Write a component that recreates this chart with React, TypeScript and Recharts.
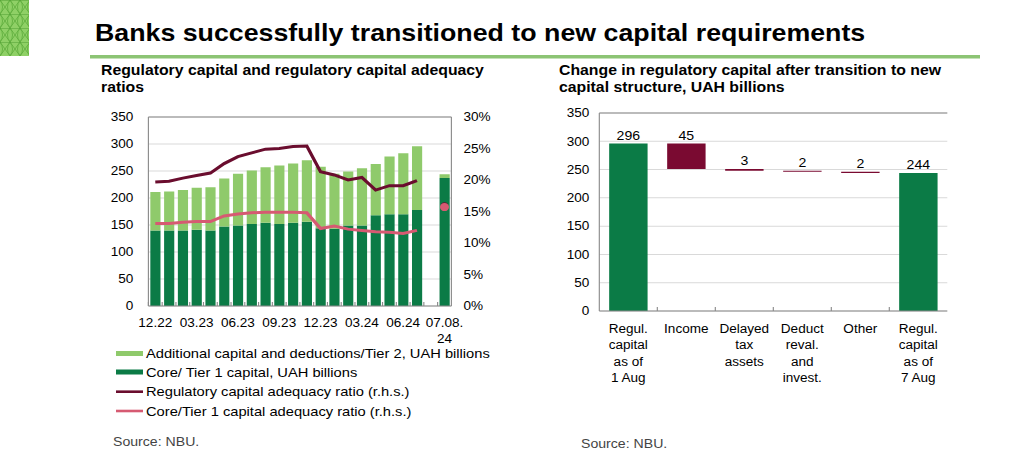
import React from 'react';
import { ComposedChart, Bar, Line, XAxis, YAxis, CartesianGrid, ReferenceLine, Cell, LabelList } from 'recharts';

// the reference picture is stretched sideways, so the whole page is drawn narrow and scaled back
const S = 1.13;
const u = (x: number) => x / S;

const FONT = '"Liberation Sans", Arial, Helvetica, sans-serif';
const DARK_GREEN = '#0b7b46';
const LIGHT_GREEN = '#8fca6b';
const MAROON = '#6a0d2e';
const BAR_MAROON = '#7a0a31';
const PINK = '#d65a72';
const BORDER = '#8a8a8a';
const GRID = '#d9d9d9';

// ---- left chart data ----
const months = [
  '12.22', '01.23', '02.23', '03.23', '04.23', '05.23', '06.23', '07.23', '08.23', '09.23', '10.23',
  '11.23', '12.23', '01.24', '02.24', '03.24', '04.24', '05.24', '06.24', '07.24', '', '07.08.24',
];
const coreCapital = [140, 140, 140, 141, 140, 147, 149, 152, 154, 152, 154, 156, 144, 143, 149, 149, 168, 170, 170, 178, null, 237];
const additionalCapital = [71, 72, 75, 78, 80, 89, 96, 99, 103, 108, 110, 114, 114, 102, 100, 106, 95, 107, 113, 118, null, 7];
const regulatoryCar = [19.7, 19.8, 20.3, 20.7, 21.1, 22.6, 23.7, 24.3, 24.9, 25.0, 25.3, 25.4, 21.3, 20.8, 20.0, 20.4, 18.4, 19.1, 19.1, 19.9, null, 16.0];
const tier1Car = [13.1, 13.1, 13.3, 13.4, 13.4, 14.3, 14.6, 14.8, 14.9, 14.9, 14.9, 14.8, 12.3, 12.7, 12.2, 12.0, 11.8, 11.7, 11.5, 12.0, null, 15.7];
const shownTicks = ['12.22', '03.23', '06.23', '09.23', '12.23', '03.24', '06.24', '07.08.24'];
const shownTickLines = [['12.22'], ['03.23'], ['06.23'], ['09.23'], ['12.23'], ['03.24'], ['06.24'], ['07.08.', '24']];
const leftTicks = [0, 50, 100, 150, 200, 250, 300, 350];
const rightTicks = [0, 5, 10, 15, 20, 25, 30];

const leftData = months.map((m, i) => ({
  month: m,
  core: coreCapital[i],
  additional: additionalCapital[i],
  reg: regulatoryCar[i],
  t1: tier1Car[i],
}));

const legendItems = [
  { label: 'Additional capital and deductions/Tier 2, UAH billions', color: LIGHT_GREEN, kind: 'bar' },
  { label: 'Core/ Tier 1 capital, UAH billions', color: DARK_GREEN, kind: 'bar' },
  { label: 'Regulatory capital adequacy ratio (r.h.s.)', color: MAROON, kind: 'line' },
  { label: 'Core/Tier 1 capital adequacy ratio (r.h.s.)', color: PINK, kind: 'line' },
];

// ---- right chart data ----
const wfCategories = [
  'Regul.\ncapital\nas of\n1 Aug',
  'Income',
  'Delayed\ntax\nassets',
  'Deduct\nreval.\nand\ninvest.',
  'Other',
  'Regul.\ncapital\nas of\n7 Aug',
];
const wfBase = [0, 251, 248, 246, 244, 0];
const wfChange = [296, 45, 3, 2, 2, 244];
const wfKind = ['total', 'change', 'change', 'change', 'change', 'total'];

const wfData = wfCategories.map((c, i) => ({ cat: c, base: wfBase[i], change: wfChange[i] }));

const LEFT_STEP = u(303) / months.length;
const RIGHT_STEP = u(348) / wfCategories.length;

const LeftTick = (props: any) => {
  const { x, y, payload } = props;
  const i = shownTicks.indexOf(payload.value);
  const hx = x - LEFT_STEP / 2;
  return (
    <g>
      <line x1={hx} x2={hx} y1={y} y2={y - 4} stroke={BORDER} />
      {i >= 0 && (
        <text x={x} y={y + 21.5} textAnchor="middle" fontSize={12} fill="#000">
          {shownTickLines[i].map((t, k) => (
            <tspan key={k} x={x} dy={k === 0 ? 0 : 15.5}>{t}</tspan>
          ))}
        </text>
      )}
    </g>
  );
};

const RightTick = (props: any) => {
  const { x, y, payload, index } = props;
  const hx = x - RIGHT_STEP / 2;
  const lines = String(payload.value).split('\n');
  return (
    <g>
      {index > 0 && <line x1={hx} x2={hx} y1={y} y2={y - 4} stroke={BORDER} />}
      <text x={x} y={y + 22} textAnchor="middle" fontSize={12} fill="#000">
        {lines.map((t, k) => (
          <tspan key={k} x={x} dy={k === 0 ? 0 : 16.3}>{t}</tspan>
        ))}
      </text>
    </g>
  );
};

const isolatedDot = (series: (number | null)[], color: string, r: number) => (p: any) => {
  const i = p.index;
  const alone = series[i] != null && series[i - 1] == null && series[i + 1] == null;
  if (!alone || p.cy == null) return <g key={`d${i}`} />;
  return <circle key={`d${i}`} cx={p.cx} cy={p.cy} r={r} fill={color} />;
};

function LeftChart() {
  return (
    <ComposedChart
      width={u(420)}
      height={250}
      data={leftData}
      margin={{ top: 17, right: 0, bottom: 0, left: 0 }}
      barCategoryGap="14%"
    >
      <CartesianGrid vertical={false} stroke={GRID} yAxisId="l" />
      <XAxis
        dataKey="month"
        interval={0}
        height={44}
        tickSize={0}
        tickMargin={0}
        tickLine={false}
        axisLine={{ stroke: BORDER }}
        tick={<LeftTick />}
      />
      <YAxis
        yAxisId="l"
        domain={[0, 350]}
        ticks={leftTicks}
        width={u(58)}
        tickSize={0}
        tickMargin={u(15)}
        tickLine={false}
        axisLine={{ stroke: BORDER }}
        tick={{ fontSize: 12, fill: '#000' }}
      />
      <YAxis
        yAxisId="r"
        orientation="right"
        domain={[0, 30]}
        ticks={rightTicks}
        width={u(59)}
        tickSize={0}
        tickMargin={u(12)}
        tickLine={false}
        axisLine={{ stroke: BORDER }}
        tickFormatter={(v: number) => `${v}%`}
        tick={{ fontSize: 12, fill: '#000', textAnchor: 'start' }}
      />
      <ReferenceLine yAxisId="l" y={350} stroke={BORDER} />
      <Bar yAxisId="l" dataKey="core" stackId="cap" fill={DARK_GREEN} isAnimationActive={false} />
      <Bar yAxisId="l" dataKey="additional" stackId="cap" fill={LIGHT_GREEN} isAnimationActive={false} />
      <Line
        yAxisId="r"
        dataKey="reg"
        stroke={MAROON}
        strokeWidth={3}
        dot={isolatedDot(regulatoryCar, MAROON, 3)}
        activeDot={false}
        isAnimationActive={false}
      />
      <Line
        yAxisId="r"
        dataKey="t1"
        stroke={PINK}
        strokeWidth={3}
        dot={isolatedDot(tier1Car, PINK, 4)}
        activeDot={false}
        isAnimationActive={false}
      />
    </ComposedChart>
  );
}

function RightChart() {
  return (
    <ComposedChart
      width={u(420)}
      height={300}
      data={wfData}
      margin={{ top: 13, right: u(23), bottom: 0, left: 0 }}
      barCategoryGap="17%"
    >
      <CartesianGrid vertical={false} stroke={GRID} />
      <XAxis
        dataKey="cat"
        interval={0}
        height={89}
        tickSize={0}
        tickMargin={0}
        tickLine={false}
        axisLine={{ stroke: BORDER }}
        tick={<RightTick />}
      />
      <YAxis
        domain={[0, 350]}
        ticks={leftTicks}
        width={u(49)}
        tickSize={0}
        tickMargin={u(10)}
        tickLine={false}
        axisLine={{ stroke: BORDER }}
        tick={{ fontSize: 12, fill: '#000' }}
      />
      <YAxis yAxisId="edge" orientation="right" width={0} domain={[0, 350]} tick={false} tickLine={false} axisLine={{ stroke: BORDER }} />
      <ReferenceLine y={350} stroke={BORDER} />
      <Bar dataKey="base" stackId="wf" fill="transparent" isAnimationActive={false} />
      <Bar dataKey="change" stackId="wf" isAnimationActive={false}>
        {wfData.map((d, i) => (
          <Cell key={i} fill={wfKind[i] === 'total' ? DARK_GREEN : BAR_MAROON} />
        ))}
        <LabelList dataKey="change" position="top" offset={4} fontSize={12.5} fill="#000" />
      </Bar>
    </ComposedChart>
  );
}

function Overlay() {
  const W = u(1024);
  const rowCenters = [353.5, 372, 391.7, 411];
  return (
    <svg width={W} height={458} style={{ position: 'absolute', left: 0, top: 0, pointerEvents: 'none' }}>
      <defs>
        <pattern id="lattice" width={u(10)} height={14} patternUnits="userSpaceOnUse">
          <rect width={u(10)} height={14} fill="#8fd066" />
          <path d={`M0 0 Q${u(5)} 7 0 14 M${u(10)} 0 Q${u(5)} 7 ${u(10)} 14 M0 0 L${u(10)} 14 M${u(10)} 0 L0 14`} stroke="#5fae3d" strokeWidth={0.8} fill="none" />
          <line x1={0} x2={u(10)} y1={0} y2={0} stroke="#4e9e32" strokeWidth={1} />
        </pattern>
      </defs>
      <rect x={0} y={0} width={u(29)} height={56} fill="url(#lattice)" />
      <text x={u(95)} y={41} fontSize={23.7} fontWeight="bold" fill="#000">
        Banks successfully transitioned to new capital requirements
      </text>
      <rect x={u(90)} y={55} width={u(890)} height={3.5} fill="#8cc474" />
      <text x={u(101)} y={75} fontSize={14} fontWeight="bold" fill="#000">
        Regulatory capital and regulatory capital adequacy
      </text>
      <text x={u(101)} y={92} fontSize={14} fontWeight="bold" fill="#000">ratios</text>
      <text x={u(559)} y={75} fontSize={14} fontWeight="bold" fill="#000">
        Change in regulatory capital after transition to new
      </text>
      <text x={u(559)} y={92} fontSize={14} fontWeight="bold" fill="#000">capital structure, UAH billions</text>
      {legendItems.map((it, k) => (
        <g key={it.label}>
          <rect
            x={u(116)}
            y={rowCenters[k] - (it.kind === 'bar' ? 2.5 : 1.3)}
            width={u(27)}
            height={it.kind === 'bar' ? 5 : 2.6}
            fill={it.color}
          />
          <text x={u(146)} y={rowCenters[k] + 4.6} fontSize={13} fill="#000">{it.label}</text>
        </g>
      ))}
      <text x={u(113)} y={446} fontSize={12.5} fill="#444">Source: NBU.</text>
      <text x={u(581)} y={448} fontSize={12.5} fill="#444">Source: NBU.</text>
    </svg>
  );
}

export default function App() {
  return (
    <div
      style={{
        position: 'absolute',
        left: 0,
        top: 0,
        width: u(1024),
        height: 458,
        background: '#fff',
        fontFamily: FONT,
        transform: `scaleX(${S})`,
        transformOrigin: '0 0',
      }}
    >
      <div style={{ position: 'absolute', left: u(90), top: 100 }}>
        <LeftChart />
      </div>
      <div style={{ position: 'absolute', left: u(550), top: 100 }}>
        <RightChart />
      </div>
      <Overlay />
    </div>
  );
}
